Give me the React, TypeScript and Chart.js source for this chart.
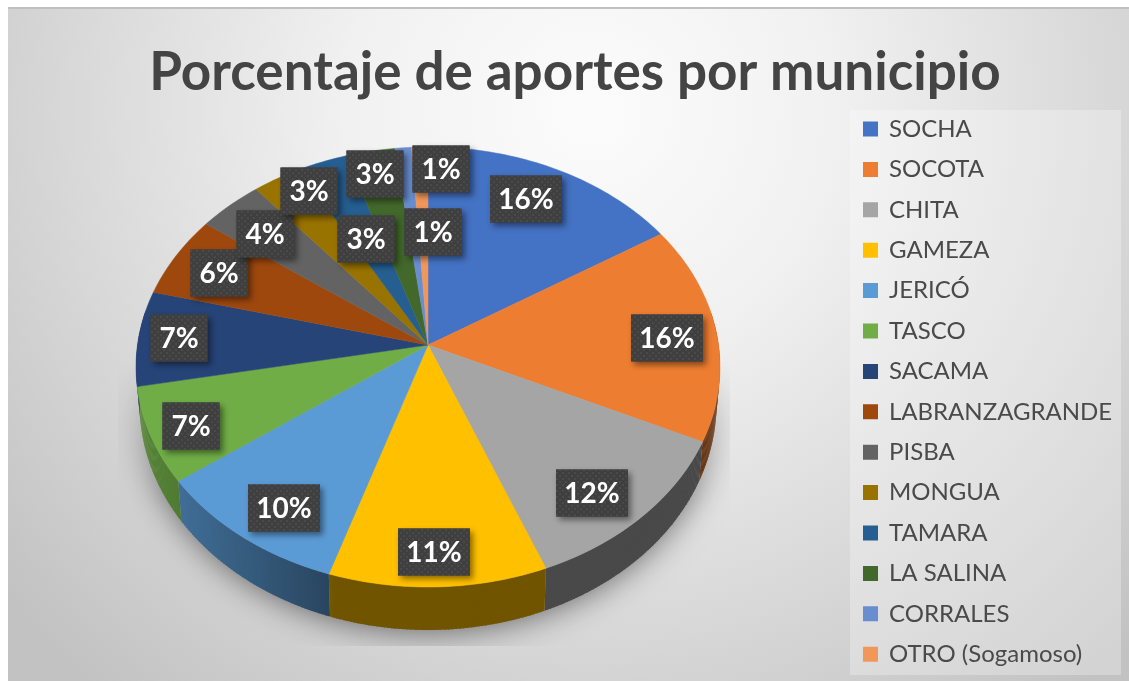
import React, { useEffect, useRef } from "react";
import { Chart, registerables } from "chart.js";

Chart.register(...registerables);

const chartTitle = "Porcentaje de aportes por municipio";
const municipios = [
  "SOCHA", "SOCOTA", "CHITA", "GAMEZA", "JERICÓ", "TASCO", "SACAMA",
  "LABRANZAGRANDE", "PISBA", "MONGUA", "TAMARA", "LA SALINA", "CORRALES", "OTRO (Sogamoso)",
];
const aportes = [16, 16, 12, 11, 10, 7, 7, 6, 4, 3, 3, 3, 1, 1];
const colores = [
  "#4472C4", "#ED7D31", "#A5A5A5", "#FFC000", "#5B9BD5", "#70AD47", "#264478",
  "#9E480E", "#636363", "#997300", "#255E91", "#43682B", "#698ED0", "#F1975A",
];

// Layout of the perspective view of the pie (not data).
const VIEW = { cx: 428, cy: 345, rx: 290.5, ry: 217.8, k: 0.1, depthBase: 36, depthFront: 7, shrink: 0.988 };
// Best-fit label centres per slice (layout, not data).
const LABEL_CENTERS: [number, number][] = [
  [526, 199], [667, 338], [592, 493], [434, 552], [284, 508], [191, 426], [179, 338],
  [219, 273], [265, 234], [309, 191], [375, 174], [366, 239], [441, 169], [433, 232],
];
const LEGEND_BOX = { left: 847.6, right: 1124, top: 100.6 };

const project = (theta: number) => {
  const u = Math.cos(theta);
  const v = Math.sin(theta);
  const d = 1 - VIEW.k * v;
  return { x: VIEW.cx + (VIEW.rx * u) / d, y: VIEW.cy + (VIEW.ry * v) / d, v };
};
const lowerRim = (p: { x: number; y: number; v: number }) => ({
  x: VIEW.cx + (p.x - VIEW.cx) * VIEW.shrink,
  y: p.y + VIEW.depthBase + VIEW.depthFront * p.v,
});
const shade = (hex: string, f: number) => {
  const n = parseInt(hex.slice(1), 16);
  return `rgb(${Math.round(((n >> 16) & 255) * f)},${Math.round(((n >> 8) & 255) * f)},${Math.round((n & 255) * f)})`;
};
const sideFactor = (x: number) => {
  const t = Math.min(1, Math.max(0, (x - 136) / 200));
  return 0.78 - 0.34 * t;
};

const scenePlugin = {
  id: "scene",
  afterLayout(chart: any) {
    // Keep all legend rows in a single column and pin the legend to its panel.
    const l = chart.legend;
    l.maxHeight = 2000;
    l.fit();
    l.left = LEGEND_BOX.left;
    l.right = LEGEND_BOX.right;
    l.top = LEGEND_BOX.top;
    l.bottom = LEGEND_BOX.top + l.height;
    l.adjustHitBoxes();
  },
  beforeDraw(chart: any) {
    const { ctx } = chart;
    ctx.save();
    // Page panel background
    const g = ctx.createRadialGradient(590, 110, 20, 590, 110, 760);
    g.addColorStop(0, "#fbfbfb");
    g.addColorStop(0.3, "#f1f1f1");
    g.addColorStop(0.65, "#dadada");
    g.addColorStop(1, "#c2c2c2");
    ctx.fillStyle = g;
    ctx.fillRect(8, 7, 1121, 674);
    ctx.fillStyle = "#c0c0c0";
    ctx.fillRect(8, 7, 1121, 2);
    // Legend panel
    ctx.fillStyle = "rgba(255,255,255,0.28)";
    ctx.fillRect(850, 110, 271, 565);
    // Soft shadow below the pie: fades upward, cut off at the plot area
    const off = document.createElement("canvas");
    off.width = chart.width;
    off.height = chart.height;
    const o = off.getContext("2d")!;
    o.shadowColor = "rgba(0,0,0,0.6)";
    o.shadowBlur = 34;
    o.fillStyle = "#a6a6a6";
    o.beginPath();
    o.ellipse(VIEW.cx, 400, 287, 230, 0, 0, Math.PI * 2);
    o.fill();
    o.shadowColor = "transparent";
    o.globalCompositeOperation = "destination-in";
    const fade = o.createLinearGradient(0, 360, 0, 500);
    fade.addColorStop(0, "rgba(0,0,0,0)");
    fade.addColorStop(1, "rgba(0,0,0,1)");
    o.fillStyle = fade;
    o.fillRect(0, 0, off.width, off.height);
    ctx.beginPath();
    ctx.rect(118, 340, 612, 306);
    ctx.clip();
    ctx.drawImage(off, 0, 0);
    ctx.restore();
  },
  beforeDatasetDraw(chart: any, args: any) {
    const { ctx } = chart;
    const arcs = args.meta.data;
    ctx.save();
    // Side wall, built from the arc angles computed by the library
    arcs.forEach((arc: any, i: number) => {
      const span = arc.endAngle - arc.startAngle;
      const steps = Math.max(2, Math.ceil(span / 0.012));
      for (let s = 0; s < steps; s++) {
        const a0 = arc.startAngle + (span * s) / steps;
        const a1 = arc.startAngle + (span * (s + 1.4)) / steps;
        const p0 = project(a0);
        const p1 = project(Math.min(a1, arc.endAngle));
        if (p0.v < -0.15 && p1.v < -0.15) continue;
        const l0 = lowerRim(p0);
        const l1 = lowerRim(p1);
        ctx.fillStyle = shade(colores[i], sideFactor(p0.x));
        ctx.beginPath();
        ctx.moveTo(p0.x, p0.y);
        ctx.lineTo(p1.x, p1.y);
        ctx.lineTo(l1.x, l1.y);
        ctx.lineTo(l0.x, l0.y);
        ctx.closePath();
        ctx.fill();
      }
    });
    // Top surface
    arcs.forEach((arc: any, i: number) => {
      const span = arc.endAngle - arc.startAngle;
      const steps = Math.max(4, Math.ceil(span / 0.02));
      ctx.fillStyle = colores[i];
      ctx.strokeStyle = colores[i];
      ctx.lineWidth = 0.5;
      ctx.beginPath();
      ctx.moveTo(VIEW.cx, VIEW.cy);
      for (let s = 0; s <= steps; s++) {
        const p = project(arc.startAngle + (span * s) / steps);
        ctx.lineTo(p.x, p.y);
      }
      ctx.closePath();
      ctx.fill();
      ctx.stroke();
    });
    ctx.restore();
    return false;
  },
  afterDatasetsDraw(chart: any) {
    const { ctx } = chart;
    const data = chart.data.datasets[0].data as number[];
    const total = data.reduce((a, b) => a + b, 0);
    const tile = document.createElement("canvas");
    tile.width = 6;
    tile.height = 6;
    const t = tile.getContext("2d")!;
    t.fillStyle = "#3f3f3f";
    t.fillRect(0, 0, 6, 6);
    t.fillStyle = "#4a4a4a";
    t.fillRect(1, 1, 2, 2);
    t.fillRect(4, 4, 2, 2);
    const pattern = ctx.createPattern(tile, "repeat");
    data.forEach((value, i) => {
      const text = `${Math.round((value / total) * 100)}%`;
      const [x, y] = LABEL_CENTERS[i];
      const w = text.length > 2 ? 72 : 57;
      const h = 47;
      ctx.save();
      ctx.shadowColor = "rgba(0,0,0,0.45)";
      ctx.shadowBlur = 6;
      ctx.shadowOffsetX = 3;
      ctx.shadowOffsetY = 3;
      ctx.fillStyle = "#3f3f3f";
      ctx.fillRect(x - w / 2, y - h / 2, w, h);
      ctx.restore();
      ctx.save();
      ctx.fillStyle = pattern;
      ctx.fillRect(x - w / 2, y - h / 2, w, h);
      ctx.fillStyle = "#ffffff";
      ctx.font = "bold 28px Lato";
      ctx.textAlign = "center";
      ctx.textBaseline = "middle";
      ctx.fillText(text, x, y + 1);
      ctx.restore();
    });
  },
};

export default function App() {
  const ref = useRef<HTMLCanvasElement>(null);
  useEffect(() => {
    const chart = new Chart(ref.current!, {
      type: "pie",
      data: {
        labels: municipios,
        datasets: [{ data: aportes, backgroundColor: colores, borderColor: colores, borderWidth: 2 }],
      },
      options: {
        responsive: false,
        animation: false,
        layout: { padding: { left: 26, right: 5, top: 0, bottom: 0 } },
        plugins: {
          tooltip: { enabled: false },
          title: {
            display: true,
            text: chartTitle,
            color: "#444444",
            font: { family: "Lato", size: 53, weight: "bold", lineHeight: 1 },
            padding: { top: 46, bottom: 1.6 },
          },
          legend: {
            display: true,
            position: "right",
            align: "start",
            fullSize: false,
            labels: {
              boxWidth: 13,
              boxHeight: 13,
              padding: 16.4,
              color: "#4a4a4a",
              font: { family: "Lato", size: 24 },
            },
          },
        },
      },
      plugins: [scenePlugin],
    } as any);
    return () => chart.destroy();
  }, []);
  return (
    <div style={{ position: "absolute", left: 0, top: 0, width: 1129, height: 681 }}>
      <canvas ref={ref} width={1129} height={681} style={{ display: "block", filter: "blur(0.4px)" }} />
    </div>
  );
}
